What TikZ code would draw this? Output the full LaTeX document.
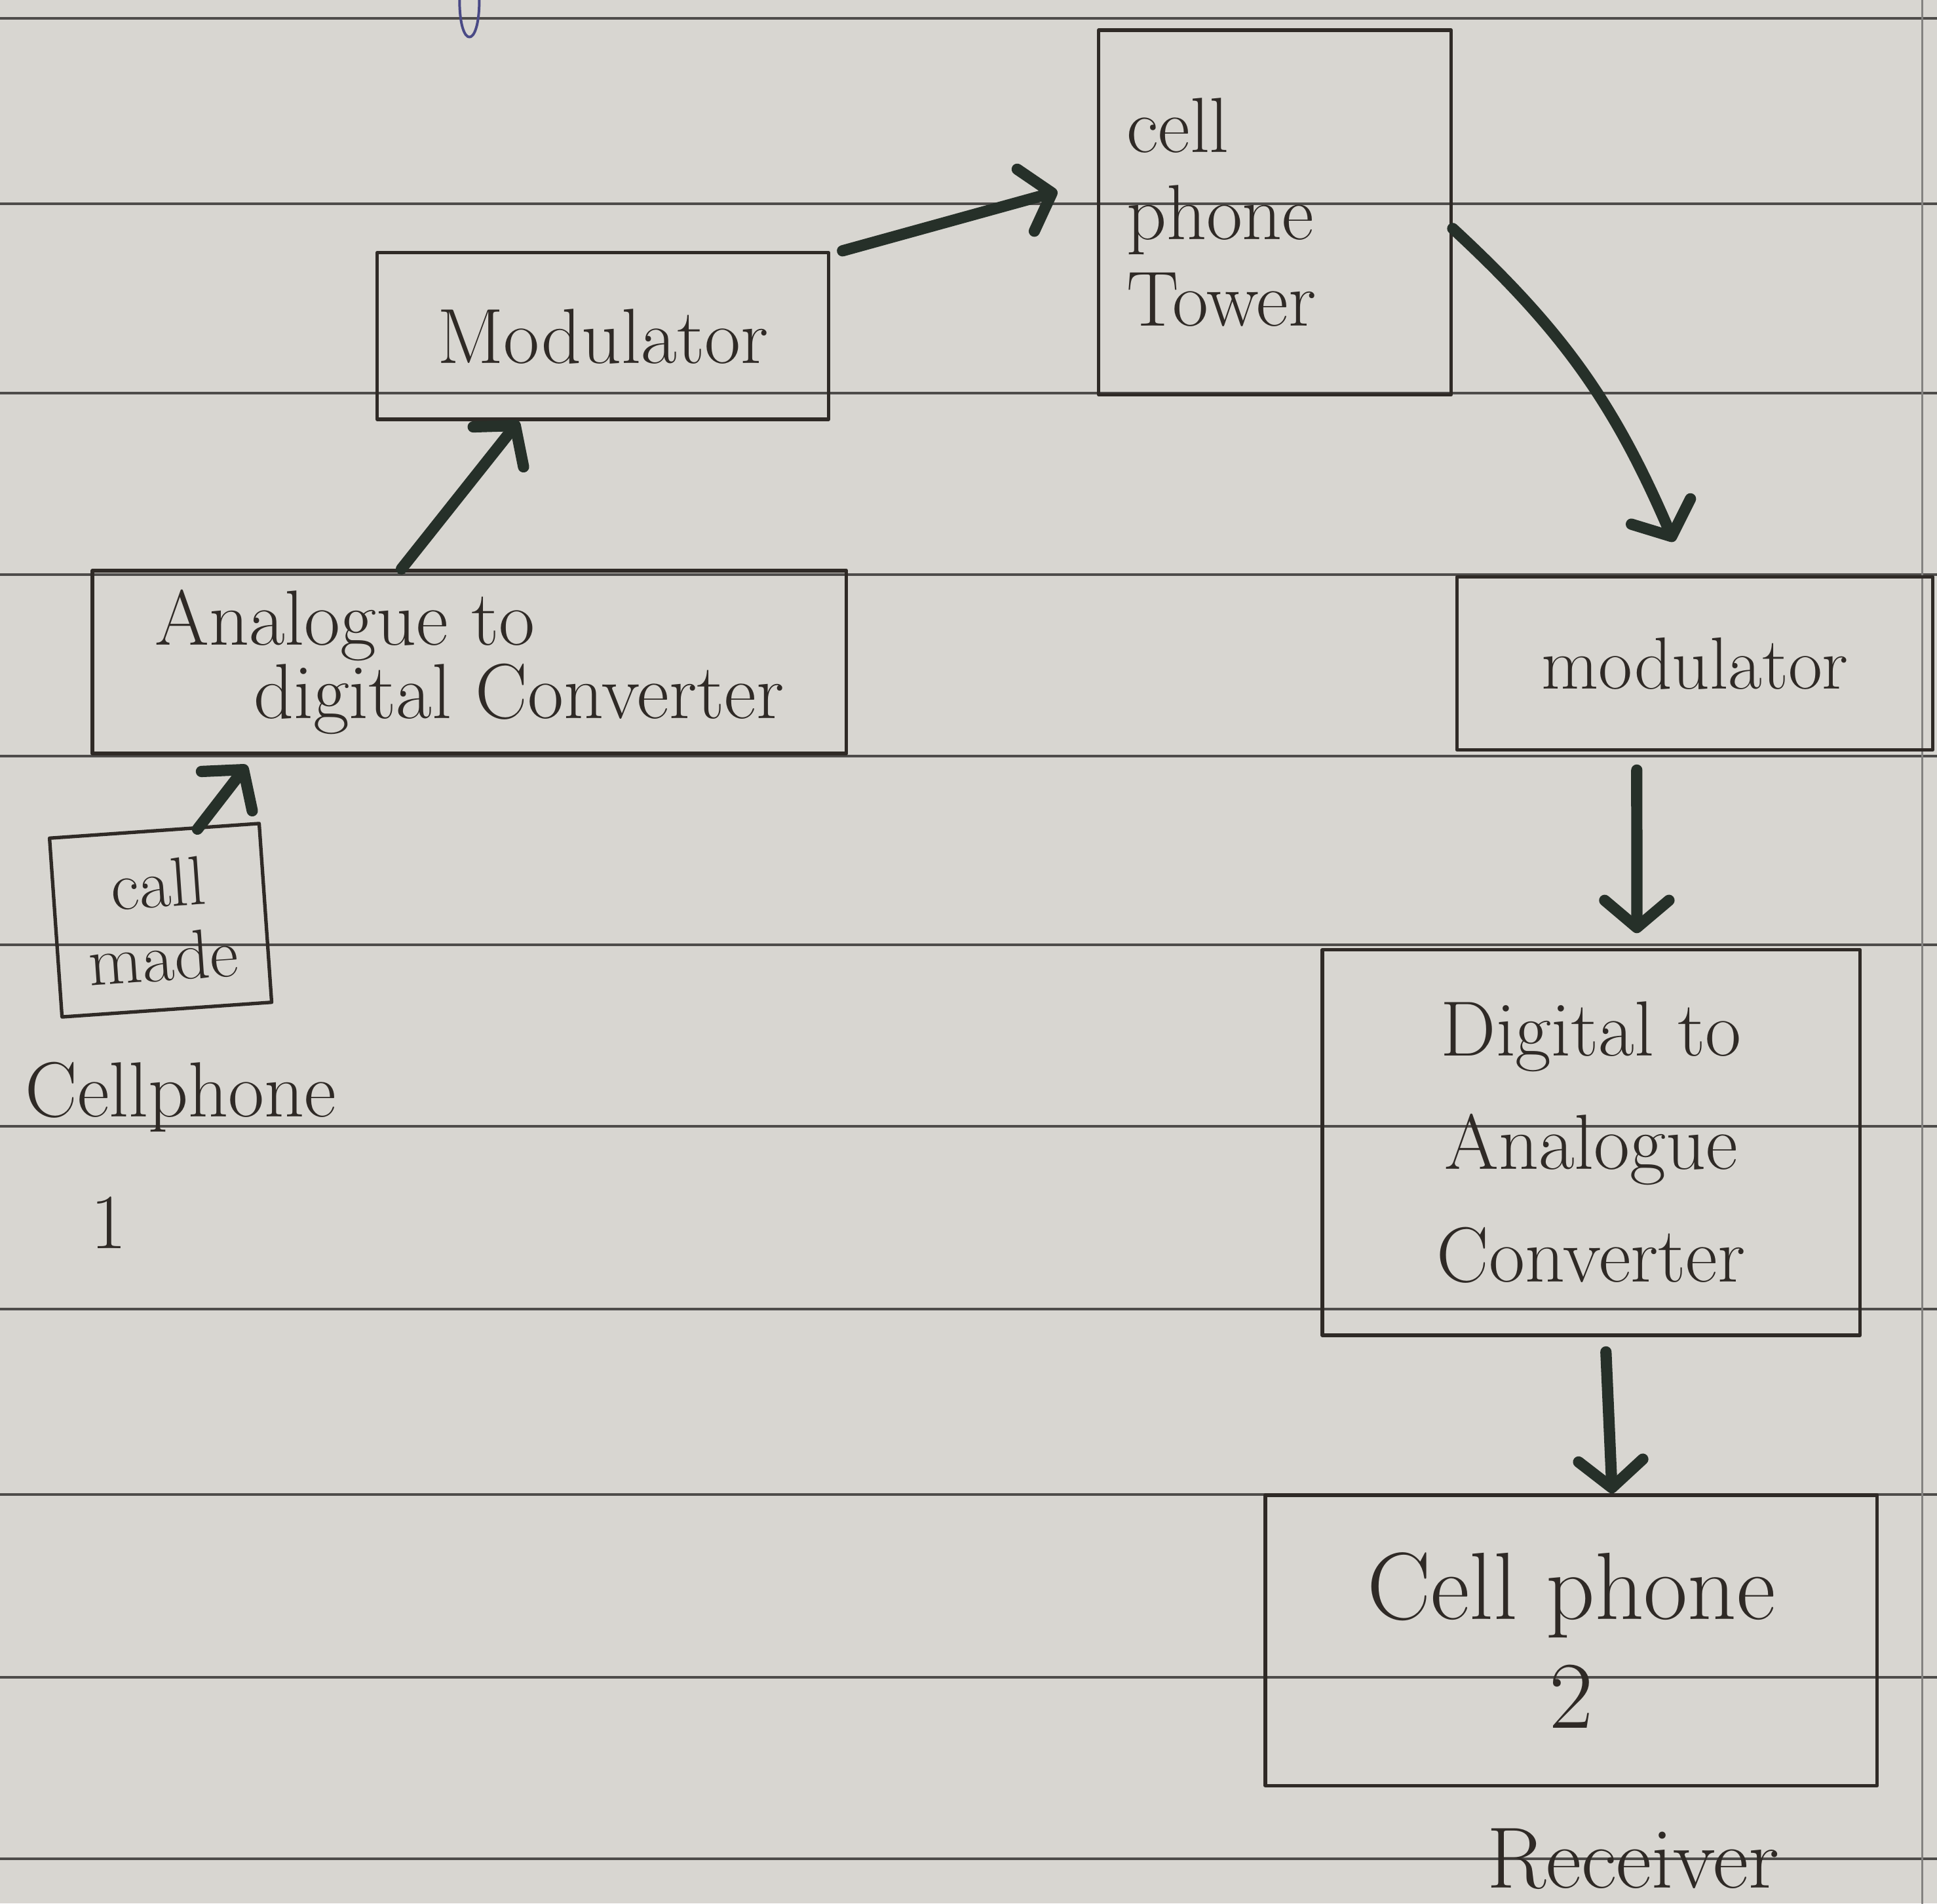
\documentclass[tikz,border=0pt]{standalone}
\usepackage{tikz}
\usetikzlibrary{arrows.meta,positioning}
\definecolor{paper}{HTML}{D8D6D1}
\definecolor{rule}{HTML}{4E4C4A}
\definecolor{ink}{HTML}{2F2A26}
\definecolor{arrowink}{HTML}{263029}
\definecolor{pen}{HTML}{4A4A86}
\tikzset{
  every picture/.style={line join=round, line cap=round, x=0.01cm, y=-0.01cm},
  box/.style={draw=ink, line width=0.8pt, align=center, inner sep=0pt, text=ink},
  flow/.style={arrowink, line width=2.6pt, -{Straight Barb[length=0.22cm,width=0.52cm,round]}},
  hand/.style={text=ink, font=\fontsize{18}{20}\selectfont},
}

\begin{document}
\begin{tikzpicture}
% paper
\fill[paper] (0,0) rectangle (1568,1541);
\useasboundingbox (0,0) rectangle (1568,1541);
\foreach \ry in {15,165,318,465,612,765,912,1060,1210,1358,1505}
  \draw[rule, line width=0.6pt] (0,\ry) -- (1568,\ry);
\draw[rule!70, line width=0.5pt] (1556,0) -- (1556,1541);
\draw[pen, line width=0.6pt] (372,0) .. controls (372,40) and (388,40) .. (388,0);

% sender side
\node[box, hand, rotate=4, minimum width=1.7cm, minimum height=1.45cm, font=\fontsize{16}{17}\selectfont] (call) at (130,745) {call\\made};
\node[hand, anchor=west] (phone1) at (8,888) {Cellphone};
\node[hand] (phone1num) at (88,990) {1};
\node[box, hand, align=left, minimum width=6.1cm, minimum height=1.48cm, font=\fontsize{18}{17}\selectfont] (adc) at (380,536) {Analogue to\\\hspace*{0.8cm}digital Converter};
\node[box, hand, minimum width=3.65cm, minimum height=1.35cm, text depth=-0.1cm] (mod1) at (488,272) {Modulator};

% tower
\node[box, hand, align=left, text width=2.4cm, minimum width=2.85cm, minimum height=2.95cm] (tower) at (1032,172) {cell\\phone\\Tower};

% receiver side
\node[box, hand, minimum width=3.85cm, minimum height=1.4cm, font=\fontsize{17}{20}\selectfont] (mod2) at (1372,537) {modulator};
\node[box, hand, minimum width=4.35cm, minimum height=3.12cm, font=\fontsize{18}{26}\selectfont] (dac) at (1288,925) {Digital to\\Analogue\\Converter};
\node[box, hand, minimum width=4.95cm, minimum height=2.35cm, font=\fontsize{22}{25}\selectfont] (cp2) at (1272,1328) {Cell phone\\2};
\node[hand, font=\fontsize{20}{22}\selectfont] (recv) at (1322,1505) {Receiver};

% arrows
\draw[flow] ([xshift=0.35cm]call.north) -- ([xshift=-1.8cm,yshift=-0.08cm]adc.south);
\draw[flow] ([xshift=-0.55cm]adc.north) -- ([xshift=-0.68cm]mod1.south);
\draw[flow] ([xshift=0.1cm]mod1.north east) -- ([xshift=-0.32cm,yshift=0.17cm]tower.west);
\draw[flow] ([yshift=-0.13cm]tower.east) to[bend left=12] ([xshift=-0.17cm,yshift=0.27cm]mod2.north);
\draw[flow] ([xshift=-0.47cm,yshift=-0.15cm]mod2.south) -- ([xshift=0.37cm,yshift=0.12cm]dac.north);
\draw[flow] ([xshift=0.12cm,yshift=-0.12cm]dac.south) -- ([xshift=0.33cm]cp2.north);
\end{tikzpicture}
\end{document}
